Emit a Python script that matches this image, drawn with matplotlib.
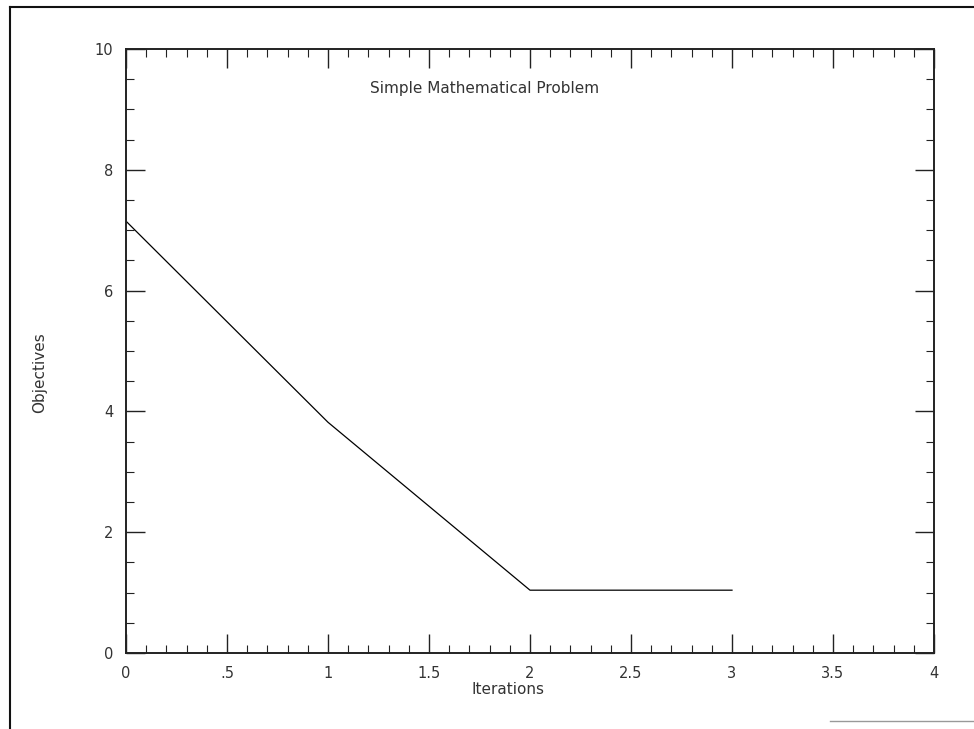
import matplotlib
matplotlib.use("Agg")
import matplotlib.pyplot as plt
from matplotlib.ticker import MultipleLocator, FixedLocator
from matplotlib.lines import Line2D

iterations = [0, 1, 2, 3]
objectives = [7.15, 3.82, 1.04, 1.04]
xtick_vals = [0, 0.5, 1, 1.5, 2, 2.5, 3, 3.5, 4]
xtick_labels = ["0", ".5", "1", "1.5", "2", "2.5", "3", "3.5", "4"]
ytick_vals = [0, 2, 4, 6, 8, 10]
ytick_labels = ["0", "2", "4", "6", "8", "10"]

plt.rcParams['font.family'] = ['DejaVu Sans']
fig = plt.figure(figsize=(9.74, 7.29), dpi=100)
W, H = 974, 729
ax = fig.add_axes([126 / W, 1 - 653 / H, (934 - 126) / W, (653 - 49) / H])

ax.plot(iterations, objectives, color='black', lw=0.9)
ax.set_xlim(0, 4)
ax.set_ylim(0, 10)

ax.xaxis.set_major_locator(FixedLocator(xtick_vals))
ax.set_xticklabels(xtick_labels)
ax.yaxis.set_major_locator(FixedLocator(ytick_vals))
ax.set_yticklabels(ytick_labels)
ax.xaxis.set_minor_locator(MultipleLocator(0.1))
ax.yaxis.set_minor_locator(MultipleLocator(0.5))

ax.tick_params(which='both', direction='in', top=True, right=True, colors='#222222',
               labelsize=10.5, labelcolor='#333333')
ax.tick_params(which='major', length=14, width=1.0, pad=9)
ax.tick_params(which='minor', length=6, width=0.8)
for s in ax.spines.values():
    s.set_linewidth(1.4)
    s.set_color('#222222')

ax.text(0.444, 0.935, "Simple Mathematical Problem", transform=ax.transAxes,
        ha='center', va='center', fontsize=11, color='#333333')
ax.set_xlabel("Iterations", fontsize=11, color='#333333', labelpad=2)
ax.xaxis.set_label_coords(0.473, -0.048)
ax.set_ylabel("Objectives", fontsize=11, color='#333333')
ax.yaxis.set_label_coords(-0.098, 0.464)

# outer frame of the scanned page
fig.add_artist(Line2D([10 / W, 10 / W], [0, 1 - 7 / H], transform=fig.transFigure,
                      color='#111111', lw=1.5))
fig.add_artist(Line2D([10 / W, 1], [1 - 7 / H, 1 - 7 / H], transform=fig.transFigure,
                      color='#111111', lw=1.5))
fig.add_artist(Line2D([830 / W, 1], [1 - 721 / H, 1 - 721 / H], transform=fig.transFigure,
                      color='#999999', lw=1.0))

fig.savefig("out.png", dpi=100, facecolor='white')
